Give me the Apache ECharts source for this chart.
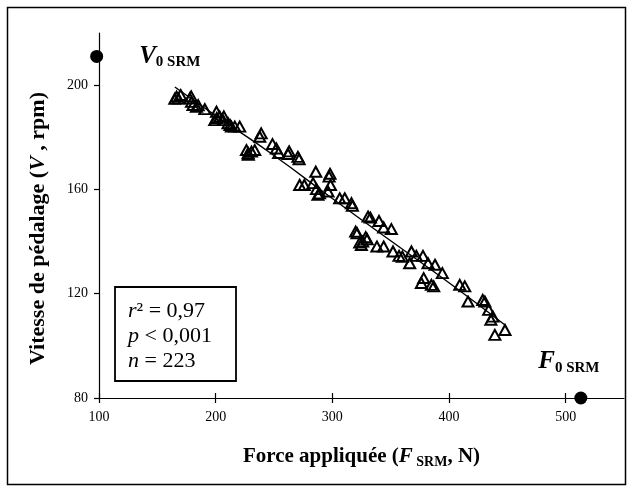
<!DOCTYPE html>
<html>
<head>
<meta charset="utf-8">
<script src="https://cdn.jsdelivr.net/npm/echarts@6/dist/echarts.min.js"></script>
<style>
html,body{margin:0;padding:0;background:#fff;}
#chart{width:634px;height:491px;}
</style>
</head>
<body>
<div id="chart"></div>
<script>
// Data
var forceValues = [165,166.5,168,170,177.8,179,179.3,180.6,183.5,185,190.7,200.7,199.2,201,203.5,206.3,207,210.6,212.3,213.5,216.4,220.6,237.8,239,226.4,227.8,230.7,233.5,228,
  248.7,252,254,262,263,271.5,270.5,272,276,283.5,285.8,286.4,287.7,289,296.3,297.2,298.4,298,306.3,310.6,316.4,317.2,330.6,332.6,340,344,350.6,320,321.2,328.6,329.8,323.5,324.9,326,338.2,344,352,357.2,360,367.8,366.3,372,377.7,382,388,394.3,378.3,376.3,384.9,386.9,409.2,413.5,416.3,428.9,430.7,434,435.9,437.6,439.3,448];
var speedValues = [194.8,195.6,194.9,196.2,194.9,195.7,193.6,192.4,191.7,192.3,190.8,189.8,186.6,187.4,187.9,186.6,188,185.4,184.7,184.1,184.1,184.1,180.2,181.5,175.1,173.9,174.5,175.1,173.3,
  177.4,175.7,174,173.6,174.6,171.6,172.5,161.7,161.7,162.4,166.8,160.1,157.9,158.5,159.2,164.9,161.7,166,156.6,156.6,154.7,153.7,149.6,149.2,147.9,145.4,144.8,143.8,143.2,141.7,140.9,139.6,138.7,140,138.1,138.1,136.2,134.5,134.2,136.2,131.7,134.5,134.5,131.7,131.1,127.9,126,124.1,123.4,122.8,123.4,122.8,117,117.6,117,113.8,110,111.2,104.2,106.1];
var fitForce = [165,200,250,300,350,400,448];
var fitSpeed = [199.3,188.3,173,156.5,140.3,124.2,108];
var extremeForce = [98,513];
var extremeSpeed = [211,80];
var xTicks = [100,200,300,400,500];
var yTicks = [80,120,160,200];
var statLines = ['{i|r}{n|² = 0,97}', '{i|p}{n| < 0,001}', '{i|n}{n| = 223}'];

var serif = 'Liberation Serif';
var pts = forceValues.map(function(f,i){return [f, speedValues[i]];});
var fit = fitForce.map(function(f,i){return [f, fitSpeed[i]];});

var chart = echarts.init(document.getElementById('chart'));
chart.setOption({
  animation:false,
  backgroundColor:'#fff',
  grid:{left:99,right:10,top:33,bottom:93},
  xAxis:[{
    type:'value',min:100,max:550,interval:100,
    axisLine:{onZero:false,lineStyle:{color:'#000',width:1.2}},
    axisTick:{show:true,length:5,customValues:xTicks,lineStyle:{color:'#000',width:1.2}},
    axisLabel:{customValues:xTicks,margin:12,color:'#000',fontFamily:serif,fontSize:14},
    splitLine:{show:false},
    name:'{b|Force appliquée (}{bi|F}{sub| SRM}{b|, N)}',
    nameLocation:'middle',nameGap:47,
    nameTextStyle:{rich:{
      b:{fontFamily:serif,fontWeight:'bold',fontSize:21,color:'#000'},
      bi:{fontFamily:serif,fontWeight:'bold',fontStyle:'italic',fontSize:21,color:'#000'},
      sub:{fontFamily:serif,fontWeight:'bold',fontSize:14,color:'#000',padding:[10,0,0,0]}
    }}
  },{
    type:'value',min:100,max:550,interval:100,position:'bottom',
    axisLine:{show:false,onZero:false},
    axisTick:{show:true,inside:true,length:5,customValues:xTicks,lineStyle:{color:'#000',width:1.2}},
    axisLabel:{show:false},splitLine:{show:false}
  }],
  yAxis:{
    type:'value',min:80,max:220,interval:40,
    axisLine:{show:true,onZero:false,lineStyle:{color:'#000',width:1.2}},
    axisTick:{show:true,length:5,customValues:yTicks,lineStyle:{color:'#000',width:1.2}},
    axisLabel:{customValues:yTicks,margin:11,color:'#000',fontFamily:serif,fontSize:14},
    splitLine:{show:false},
    name:'{b|Vitesse de pédalage (}{bi|V}{b| , rpm)}',
    nameLocation:'middle',nameGap:50,nameRotate:90,
    nameTextStyle:{padding:[0,26,0,0],rich:{
      b:{fontFamily:serif,fontWeight:'bold',fontSize:22,color:'#000'},
      bi:{fontFamily:serif,fontWeight:'bold',fontStyle:'italic',fontSize:22,color:'#000'}
    }}
  },
  series:[{
    type:'line',data:fit,smooth:true,showSymbol:false,
    lineStyle:{color:'#000',width:1.4},z:2
  },{
    type:'scatter',data:pts,symbol:'triangle',symbolSize:[11,10],
    itemStyle:{color:'rgba(0,0,0,0)',borderColor:'#000',borderWidth:2,opacity:1},z:3
  },{
    type:'scatter',symbol:'circle',symbolSize:13,clip:false,
    itemStyle:{color:'#000',opacity:1},
    data:[
      {value:[extremeForce[0],extremeSpeed[0]],label:{show:true,position:'right',distance:36,formatter:'{v|V}{s|0 SRM}'}},
      {value:[extremeForce[1],extremeSpeed[1]],label:{show:true,position:'top',distance:16,offset:[-12,0],formatter:'{v|F}{s|0 SRM}'}}
    ],
    label:{rich:{
      v:{fontFamily:serif,fontWeight:'bold',fontStyle:'italic',fontSize:25,color:'#000'},
      s:{fontFamily:serif,fontWeight:'bold',fontSize:15,color:'#000',padding:[12,0,0,0]}
    }},z:4
  }],
  graphic:[
    {type:'rect',shape:{x:7.5,y:7.5,width:618,height:477},style:{fill:'none',stroke:'#000',lineWidth:1.5},silent:true},
    {type:'rect',shape:{x:115,y:287,width:121,height:94},style:{fill:'#fff',stroke:'#000',lineWidth:1.8},z:10},
    {type:'text',x:128,y:299,z:11,style:{text:statLines.join('\n'),lineHeight:25,
      rich:{i:{fontFamily:serif,fontStyle:'italic',fontSize:22,fill:'#000',lineHeight:25},
            n:{fontFamily:serif,fontSize:22,fill:'#000',lineHeight:25}}}}
  ]
});
</script>
</body>
</html>
